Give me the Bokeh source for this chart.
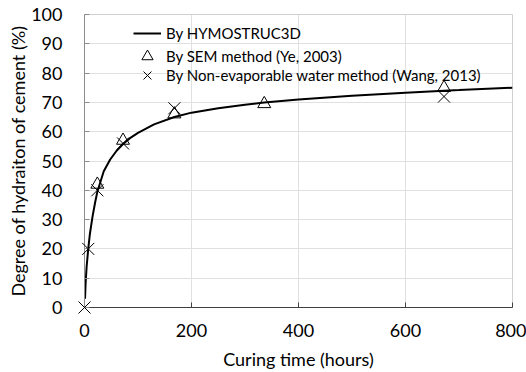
from bokeh.plotting import figure
from bokeh.models import Legend, LegendItem, Range1d, SingleIntervalTicker
from bokeh.embed import file_html
from bokeh.resources import INLINE

# Model curve (HYMOSTRUC3D)
model_t = [1, 2, 4, 7, 10, 15, 20, 24, 30, 36, 48, 60, 72, 85, 100, 130, 168, 200, 250, 300, 336, 400, 500, 600, 672, 700, 800]
model_doh = [3, 8, 14, 20, 25, 31, 36, 39.5, 43, 46.5, 50.5, 53.5, 55.8, 57.8, 59.6, 62.5, 65, 66.5, 68, 69.2, 70, 71, 72.3, 73.3, 74, 74.2, 75]

# SEM method (Ye, 2003)
sem_t = [24, 72, 168, 336, 672]
sem_doh = [42, 57, 66, 69.5, 75]

# Non-evaporable water method (Wang, 2013)
wang_t = [0, 7, 24, 72, 168, 672]
wang_doh = [0, 20, 40, 56, 68, 72]

legend_labels = ["By HYMOSTRUC3D", "By SEM method (Ye, 2003)",
                 "By Non-evaporable water method (Wang, 2013)"]

FONT = "Lato"

p = figure(width=526, height=372, output_backend="svg", toolbar_location=None,
           x_range=Range1d(0, 800), y_range=Range1d(0, 100),
           min_border_left=84, min_border_right=14, min_border_top=14, min_border_bottom=64)

l1 = p.line(model_t, model_doh, line_color="black", line_width=2)
r2 = p.scatter(sem_t, sem_doh, marker="triangle", size=13, fill_color=None,
               line_color="black", line_width=1)
r3 = p.scatter(wang_t, wang_doh, marker="x", size=17, line_color="black", line_width=1,
               level="overlay")

p.xaxis.ticker = SingleIntervalTicker(interval=200)
p.yaxis.ticker = SingleIntervalTicker(interval=10)
p.xaxis.minor_tick_line_color = None
p.yaxis.minor_tick_line_color = None
for ax in (p.xaxis[0], p.yaxis[0]):
    ax.major_tick_in = 5
    ax.major_tick_out = 0
    ax.major_label_text_font = FONT
    ax.major_label_text_font_size = "18px"
    ax.major_label_text_color = "black"
    ax.axis_label_text_font = FONT
    ax.axis_label_text_font_size = "18px"
    ax.axis_label_text_font_style = "normal"
    ax.axis_label_text_color = "black"
p.xaxis.axis_line_color = "#404040"
p.xaxis.major_tick_line_color = "#404040"
p.yaxis.axis_line_color = "#8c8c8c"
p.yaxis.major_tick_line_color = "#8c8c8c"
p.xaxis.axis_label = "Curing time (hours)"
p.yaxis.axis_label = "Degree of hydraiton of cement (%)"
p.xaxis.major_label_standoff = 12
p.yaxis.major_label_standoff = 18
p.xaxis.axis_label_standoff = 8
p.yaxis.axis_label_standoff = -1

p.xgrid.grid_line_color = "#e0e0e0"
p.ygrid.grid_line_color = "#e0e0e0"
p.outline_line_color = "#d0d0d0"
p.background_fill_color = "white"
p.border_fill_color = "white"

# one single-row legend per entry, so each glyph box can be tall enough
for label, rend, ypos in zip(legend_labels, [l1, r2, r3], [259, 236, 217]):
    lg = Legend(items=[LegendItem(label=label, renderers=[rend])], location=(49, ypos))
    lg.border_line_color = None
    lg.background_fill_alpha = 0
    lg.label_text_font = FONT
    lg.label_text_font_size = "15px"
    lg.label_text_color = "black"
    lg.glyph_width = 28
    lg.glyph_height = 30
    lg.label_height = 30
    lg.padding = 0
    lg.margin = 0
    lg.label_standoff = 5
    p.add_layout(lg)

open("out.html", "w").write(file_html(p, INLINE))
